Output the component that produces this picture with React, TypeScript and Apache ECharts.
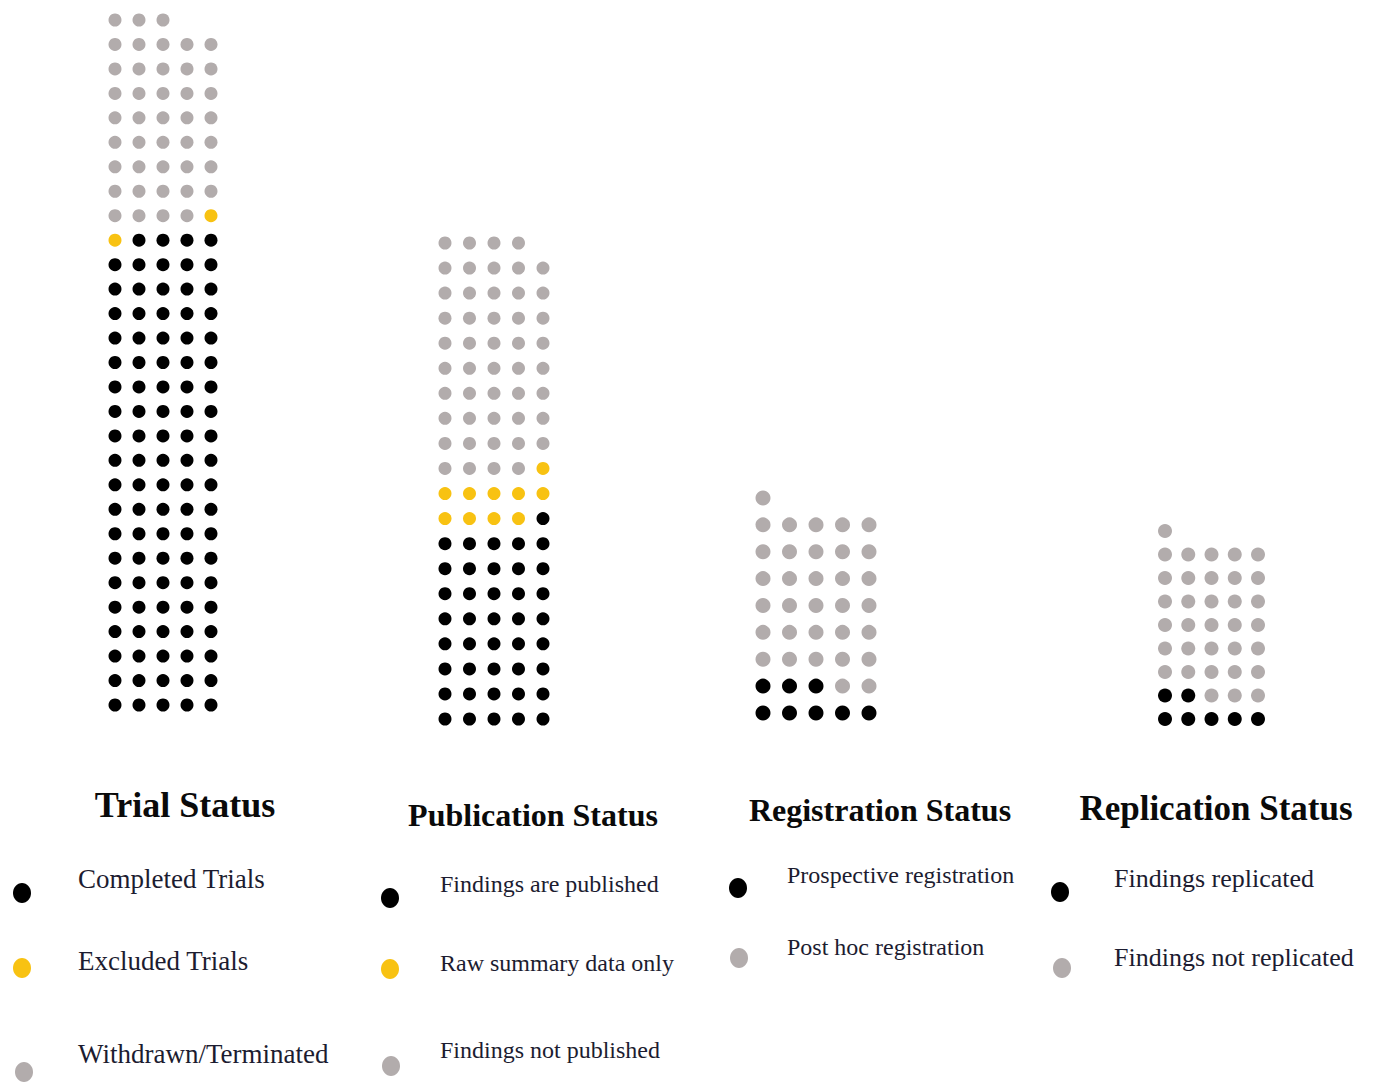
import React, { useEffect, useRef } from "react";
import * as echarts from "echarts";

// ---- Data ----
const panelTitles = ["Trial Status", "Publication Status", "Registration Status", "Replication Status"];

const trialLabels = ["Completed Trials", "Excluded Trials", "Withdrawn/Terminated"];
const trialCounts = [99, 2, 42];

const publicationLabels = ["Findings are published", "Raw summary data only", "Findings not published"];
const publicationCounts = [41, 10, 48];

const registrationLabels = ["Prospective registration", "Post hoc registration"];
const registrationCounts = [8, 33];

const replicationLabels = ["Findings replicated", "Findings not replicated"];
const replicationCounts = [7, 34];

const BLACK = "#000000";
const YELLOW = "#f8c212";
const GRAY = "#b2acac";

const trialColors = [BLACK, YELLOW, GRAY];
const publicationColors = [BLACK, YELLOW, GRAY];
const registrationColors = [BLACK, GRAY];
const replicationColors = [BLACK, GRAY];

const COLS = 5;

// Build dot cells: fill bottom-up, row order given by direction; last partial row left-aligned
function buildCells(counts: number[], dir: "rtl" | "ltr") {
  const total = counts.reduce((a, b) => a + b, 0);
  const fullRows = Math.floor(total / COLS);
  const result: number[][][] = counts.map(() => []);
  let idx = 0;
  let cat = 0;
  let used = 0;
  for (let i = 0; i < total; i++) {
    while (used >= counts[cat]) {
      cat++;
      used = 0;
    }
    const row = Math.floor(idx / COLS);
    const pos = idx % COLS;
    let col: number;
    if (row >= fullRows) col = pos;
    else col = dir === "rtl" ? COLS - 1 - pos : pos;
    result[cat].push([col, row]);
    idx++;
    used++;
  }
  return { cells: result, rows: Math.ceil(total / COLS) };
}

const panels = [
  { labels: trialLabels, counts: trialCounts, colors: trialColors, dir: "rtl" as const,
    grid: { left: 115, top: 20, width: 96, height: 685 }, size: 13,
    title: { x: 185, y: 805, size: 36 },
    legend: [[22, 893, 78, 879], [22, 968, 78, 961], [24, 1072, 78, 1054]], legendSize: 27 },
  { labels: publicationLabels, counts: publicationCounts, colors: publicationColors, dir: "rtl" as const,
    grid: { left: 445, top: 243, width: 98, height: 476 }, size: 13,
    title: { x: 533, y: 815, size: 32 },
    legend: [[390, 898, 440, 884], [390, 969, 440, 963], [391, 1066, 440, 1050]], legendSize: 24 },
  { labels: registrationLabels, counts: registrationCounts, colors: registrationColors, dir: "ltr" as const,
    grid: { left: 763, top: 498, width: 106, height: 215 }, size: 15,
    title: { x: 880, y: 810, size: 32 },
    legend: [[738, 888, 787, 875], [739, 958, 787, 947]], legendSize: 24 },
  { labels: replicationLabels, counts: replicationCounts, colors: replicationColors, dir: "ltr" as const,
    grid: { left: 1165, top: 531, width: 93, height: 188 }, size: 14,
    title: { x: 1216, y: 808, size: 35 },
    legend: [[1060, 892, 1114, 878], [1062, 968, 1114, 957]], legendSize: 26 },
];

export default function App() {
  const ref = useRef<HTMLDivElement>(null);

  useEffect(() => {
    if (!ref.current) return;
    const chart = echarts.init(ref.current, undefined, { renderer: "svg" });

    const grids: any[] = [];
    const xAxes: any[] = [];
    const yAxes: any[] = [];
    const series: any[] = [];
    const graphics: any[] = [];

    panels.forEach((p, pi) => {
      const { cells, rows } = buildCells(p.counts, p.dir);
      grids.push({ ...p.grid, containLabel: false });
      xAxes.push({ type: "value", gridIndex: pi, min: 0, max: COLS - 1, show: false });
      yAxes.push({ type: "value", gridIndex: pi, min: 0, max: rows - 1, show: false });
      p.labels.forEach((lab, ci) => {
        series.push({
          type: "scatter",
          name: lab,
          xAxisIndex: pi,
          yAxisIndex: pi,
          symbol: "circle",
          symbolSize: p.size,
          itemStyle: { color: p.colors[ci], opacity: 1 },
          data: cells[ci],
          silent: true,
        });
        const lg = p.legend[ci];
        graphics.push({
          type: "ellipse",
          shape: { cx: lg[0], cy: lg[1], rx: 9, ry: 10 },
          style: { fill: p.colors[ci] },
        });
        graphics.push({
          type: "text",
          x: lg[2],
          y: lg[3],
          style: {
            text: lab,
            fill: "#1c1c30",
            font: `${p.legendSize}px "Liberation Serif", serif`,
            textVerticalAlign: "middle",
            verticalAlign: "middle",
          },
        });
      });
      graphics.push({
        type: "text",
        x: p.title.x,
        y: p.title.y,
        style: {
          text: panelTitles[pi],
          fill: "#0a0a0a",
          font: `bold ${p.title.size}px "Liberation Serif", serif`,
          align: "center",
          verticalAlign: "middle",
          textAlign: "center",
          textVerticalAlign: "middle",
        },
      });
    });

    chart.setOption({
      animation: false,
      backgroundColor: "#ffffff",
      grid: grids,
      xAxis: xAxes,
      yAxis: yAxes,
      series,
      graphic: graphics,
    });

    return () => chart.dispose();
  }, []);

  return (
    <div
      ref={ref}
      style={{ position: "fixed", left: 0, top: 0, width: 1373, height: 1088, background: "#fff" }}
    />
  );
}
